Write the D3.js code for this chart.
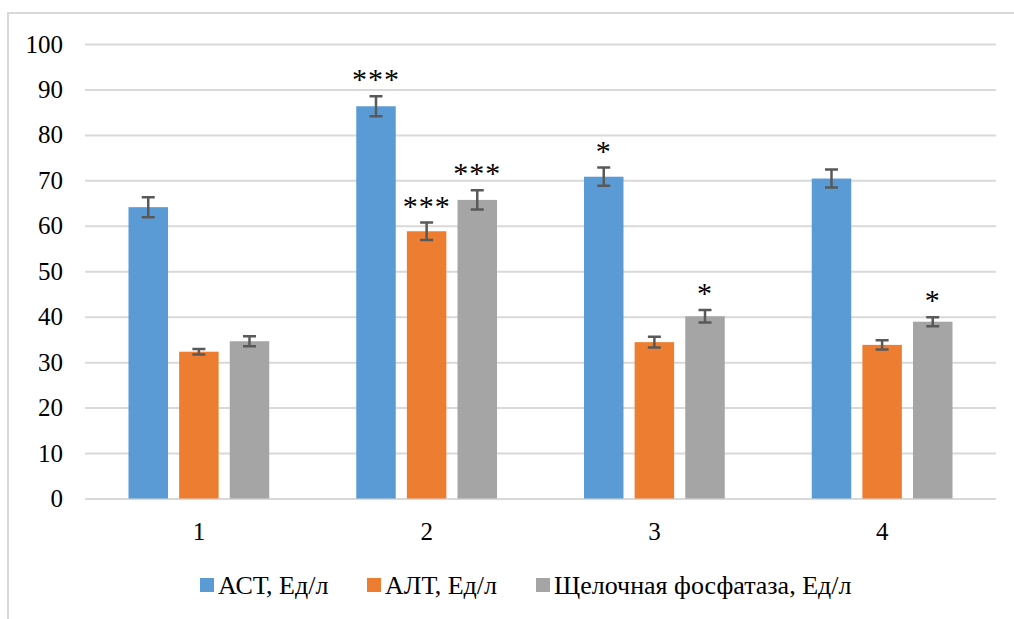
<!DOCTYPE html>
<html>
<head>
<meta charset="utf-8">
<script src="https://cdn.jsdelivr.net/npm/d3@7"></script>
<style>
  html, body { margin: 0; padding: 0; background: #fff; }
</style>
</head>
<body>
<div id="chart"></div>
<script>
// groups on the x axis
const groups = ['1', '2', '3', '4'];
const seriesNames = ['АСТ, Ед/л', 'АЛТ, Ед/л', 'Щелочная фосфатаза, Ед/л'];
const seriesColors = ['#5B9BD5', '#ED7D31', '#A5A5A5'];

// values per series, one per group
const astValues = [64.1, 86.3, 70.8, 70.4];
const altValues = [32.3, 58.8, 34.4, 33.8];
const alpValues = [34.6, 65.7, 40.1, 38.9];

// error bar half-widths
const astErr = [2.2, 2.2, 2.0, 2.0];
const altErr = [0.6, 1.9, 1.2, 1.0];
const alpErr = [1.1, 2.1, 1.4, 1.0];

// significance marks
const astSig = ['', '***', '*', ''];
const altSig = ['', '***', '', ''];
const alpSig = ['', '***', '*', '*'];

const yTicks = [0, 10, 20, 30, 40, 50, 60, 70, 80, 90, 100];

const W = 1014, H = 619;
const margin = { top: 44, right: 18, bottom: 120, left: 85 };
const FONT = 'Liberation Serif';

const svg = d3.select('#chart')
  .append('svg')
    .attr('width', W)
    .attr('height', H);

// outer frame (only top and left edges visible in the picture)
svg.append('path')
  .attr('d', `M8,${H} L8,13 L${W},13`)
  .attr('fill', 'none')
  .attr('stroke', '#D9D9D9')
  .attr('stroke-width', 2);

const x0 = d3.scaleBand()
  .domain(groups)
  .range([margin.left, W - margin.right])
  .paddingInner(0.382)
  .paddingOuter(0.191);

const x1 = d3.scaleBand()
  .domain(d3.range(seriesNames.length))
  .range([0, x0.bandwidth()])
  .paddingInner(0.22);

const y = d3.scaleLinear()
  .domain([0, 100])
  .range([H - margin.bottom - 0.5, margin.top]);

// gridlines + y labels
const yAxis = d3.axisLeft(y)
  .tickValues(yTicks)
  .tickSize(-(W - margin.right - margin.left))
  .tickPadding(22)
  .tickFormat(d3.format('d'));

const gy = svg.append('g')
  .attr('transform', `translate(${margin.left},0)`)
  .call(yAxis)
  .attr('font-family', FONT)
  .attr('font-size', 25);
gy.select('.domain').remove();
gy.selectAll('.tick line').attr('stroke', '#D9D9D9').attr('stroke-width', 2);
gy.selectAll('.tick text').attr('fill', '#000');

// x axis labels
const xAxis = d3.axisBottom(x0).tickSize(0).tickPadding(24);
const gx = svg.append('g')
  .attr('transform', `translate(0,${y(0)})`)
  .call(xAxis)
  .attr('font-family', FONT)
  .attr('font-size', 25);
gx.select('.domain').remove();
gx.selectAll('.tick text').attr('fill', '#000');

const series = [
  { values: astValues, err: astErr, sig: astSig },
  { values: altValues, err: altErr, sig: altSig },
  { values: alpValues, err: alpErr, sig: alpSig }
];

const rows = [];
series.forEach((s, si) => {
  groups.forEach((g, gi) => {
    rows.push({ g, si, v: s.values[gi], e: s.err[gi], sig: s.sig[gi] });
  });
});

const cx = d => x0(d.g) + x1(d.si) + x1.bandwidth() / 2;

// bars
svg.append('g')
  .selectAll('rect')
  .data(rows)
  .join('rect')
    .attr('x', d => x0(d.g) + x1(d.si))
    .attr('y', d => y(d.v))
    .attr('width', x1.bandwidth())
    .attr('height', d => y(0) - y(d.v))
    .attr('fill', d => seriesColors[d.si]);

// error bars
const capW = 6.5;
const eb = svg.append('g')
  .attr('stroke', '#595959')
  .attr('stroke-width', 2.5)
  .attr('fill', 'none');

eb.selectAll('path')
  .data(rows)
  .join('path')
    .attr('d', d => {
      const c = cx(d), t = y(d.v + d.e), b = y(d.v - d.e);
      return `M${c},${t}V${b}M${c - capW},${t}H${c + capW}M${c - capW},${b}H${c + capW}`;
    });

// significance asterisks
svg.append('g')
  .attr('font-family', FONT)
  .attr('font-size', 30)
  .selectAll('text')
  .data(rows.filter(d => d.sig))
  .join('text')
    .attr('x', cx)
    .attr('y', d => y(d.v + d.e) - 7)
    .attr('text-anchor', 'middle')
    .attr('letter-spacing', 1)
    .attr('fill', '#000')
    .text(d => d.sig);

// legend
const legendX = [200, 367, 536];
const legend = svg.append('g')
  .attr('transform', `translate(0,585)`)
  .attr('font-family', FONT)
  .attr('font-size', 26);

const li = legend.selectAll('g')
  .data(seriesNames)
  .join('g')
    .attr('transform', (d, i) => `translate(${legendX[i]},0)`);

li.append('rect')
  .attr('x', 0)
  .attr('y', -7)
  .attr('width', 14)
  .attr('height', 14)
  .attr('fill', (d, i) => seriesColors[i]);

li.append('text')
  .attr('x', 18)
  .attr('y', 0)
  .attr('dy', '0.35em')
  .attr('fill', '#000')
  .text(d => d);
</script>
</body>
</html>
